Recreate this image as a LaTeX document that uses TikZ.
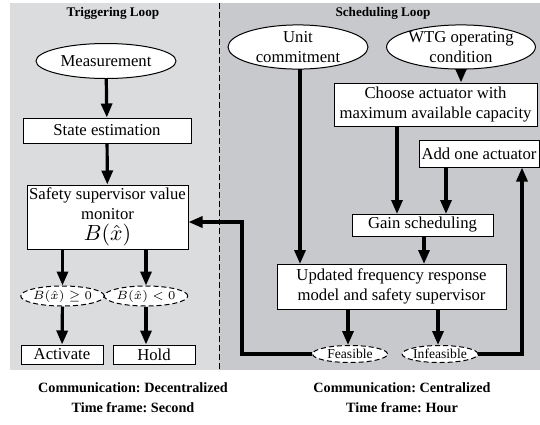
\documentclass[tikz,border=0pt]{standalone}
\usepackage{fontspec}
\setmainfont{Liberation Serif}
\usetikzlibrary{shapes.geometric,arrows.meta}

\definecolor{lpanel}{RGB}{219,220,222}
\definecolor{rpanel}{RGB}{200,201,204}
\frenchspacing

\begin{document}
\begin{tikzpicture}[x=0.5pt, y=-0.5pt,
    box/.style={draw, fill=white, line width=0.5pt, inner sep=0pt, align=center,
      font=\fontsize{8.35}{10}\selectfont},
    oval/.style={box, ellipse},
    cond/.style={oval, dash pattern=on 2.5pt off 1.5pt, font=\fontsize{6.8}{8}\selectfont},
    test/.style={cond, font=\fontsize{5.8}{7}\selectfont},
    flow/.style={line width=1.6pt, -{Triangle[length=7pt,width=5.5pt]}},
    wire/.style={line width=1.6pt},
    title/.style={font=\fontsize{6.6}{8}\selectfont\bfseries},
    foot/.style={align=center, font=\fontsize{7.1}{10}\selectfont\bfseries}]
  \useasboundingbox (0,0) rectangle (540,424);
  %
  \fill[lpanel] (10,3) rectangle (219,370);     % triggering side
  \fill[rpanel] (219,3) rectangle (540,370);    % scheduling side
  \draw[line width=0.5pt, dash pattern=on 3pt off 1.5pt] (219,3) -- (219,370);
  %
  \node[title] (ttrig) at (113,13) {Triggering Loop};
  \node[title] (tsched) at (383,13) {Scheduling Loop};
  %
  % triggering loop
  \node[oval, minimum width=70pt, minimum height=17.5pt] (meas) at (106,61) {Measurement};
  \node[box, minimum width=84pt, minimum height=12.5pt] (state) at (107,130.5) {State estimation};
  \node[box, minimum width=80.5pt, minimum height=32pt] (safety) at (107.5,217)
    {Safety supervisor value\\monitor\\[0.5pt]{\fontsize{10.5}{10}\selectfont$B(\hat{x})$}};
  \node[test, minimum width=37.5pt, minimum height=10pt] (geq) at (62.5,296) {$B(\hat{x})\geq 0$};
  \node[test, minimum width=39pt, minimum height=10pt] (less) at (146,296) {$B(\hat{x})<0$};
  \node[box, minimum width=41pt, minimum height=9.5pt] (act) at (62,354.5) {Activate};
  \node[box, minimum width=41pt, minimum height=9.5pt] (hold) at (154,354.5) {Hold};
  %
  \draw[flow] (meas) -- (state);
  \draw[flow] (state) -- (safety);
  \draw[flow] (safety.south -| geq) -- (geq);
  \draw[flow] (safety.south -| less) -- (less);
  \draw[flow] (geq) -- (act);
  \draw[flow] (less.south) -- (less.south |- hold.north);
  %
  % scheduling loop
  \node[oval, minimum width=70pt, minimum height=21.5pt] (unit) at (298,47) {Unit\\commitment};
  \node[oval, minimum width=74pt, minimum height=21.5pt] (wtg) at (461,47) {WTG operating\\condition};
  \node[box, minimum width=101.5pt, minimum height=21.5pt] (choose) at (435.5,104.5)
    {Choose actuator with\\maximum available capacity};
  \node[box, minimum width=60pt, minimum height=13.5pt] (add) at (479,153.5) {Add one actuator};
  \node[box, minimum width=70.5pt, minimum height=11pt] (gain) at (422.5,225) {Gain scheduling};
  \node[box, minimum width=114.5pt, minimum height=22.5pt] (upd) at (391.5,286.5)
    {Updated frequency response\\model and safety supervisor};
  \node[cond, minimum width=37.5pt, minimum height=8.5pt] (feas) at (350,354) {Feasible};
  \node[cond, minimum width=37pt, minimum height=8.5pt] (infeas) at (440,354) {Infeasible};
  %
  \coordinate (ret) at (242,222);
  \coordinate (up) at (522,354);
  %
  \draw[flow] (300,68.5) -- (300,264);          % unit commitment
  \draw[flow] (wtg.south) -- (wtg.south |- choose.north);
  \draw[flow] (397,126) -- (397,214);
  \draw[flow] (446,167) -- (446,214);
  \draw[flow] (424,236) -- (424,264);
  \draw[flow] (348,309) -- (feas.north -| 348,0);
  \draw[flow] (438,309) -- (infeas.north -| 438,0);
  %
  \draw[flow] (feas.west) -| (ret) -- (ret -| safety.east);   % back to monitor
  \draw[flow] (infeas.east) -- (up) -- (up |- add.south);      % add actuator
  %
  \node[foot] (fleft) at (133,398) {Communication: Decentralized\\Time frame: Second};
  \node[foot] (fright) at (402,398) {Communication: Centralized\\Time frame: Hour};
\end{tikzpicture}
\end{document}
